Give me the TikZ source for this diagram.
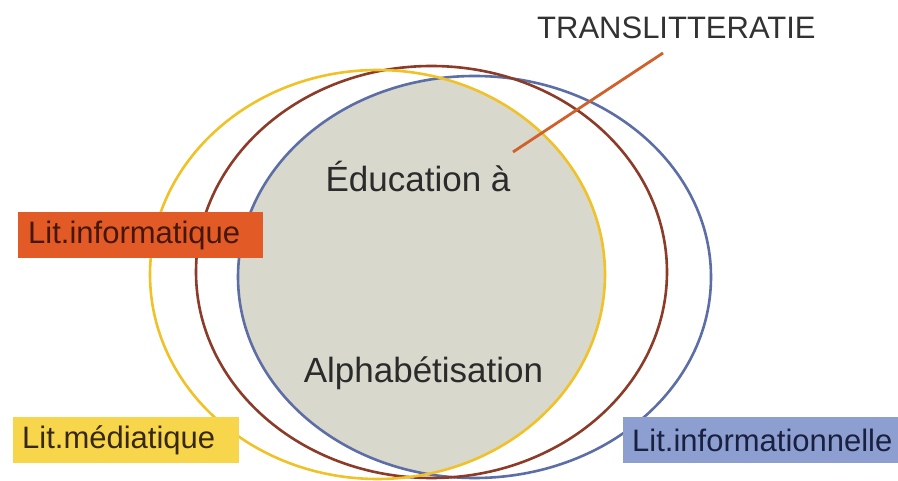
\documentclass[tikz,border=0pt]{standalone}
\usepackage{fontspec}
\setmainfont{Liberation Sans}
\definecolor{cyel}{RGB}{240,194,40}
\definecolor{cbrn}{RGB}{140,59,40}
\definecolor{cblu}{RGB}{93,110,166}
\definecolor{cgray}{RGB}{217,216,204}
\definecolor{corg}{RGB}{226,91,38}
\definecolor{cyelbox}{RGB}{247,214,76}
\definecolor{cblubox}{RGB}{141,159,208}
\definecolor{cline}{RGB}{208,96,44}
\definecolor{ctext}{RGB}{43,43,43}
\tikzset{
  ring/.style={line width=2.6pt},
  labelbox/.style={rectangle, inner ysep=0pt, minimum height=46pt, align=left,
    font=\fontsize{31}{36}\selectfont},
  bigtext/.style={anchor=base, text=ctext, inner sep=0pt, font=\fontsize{35}{40}\selectfont},
}
\begin{document}
\begin{tikzpicture}[x=1pt,y=-1pt]
\useasboundingbox (0,0) rectangle (898,481);
\clip (0,0) rectangle (898,481);
\fill[white] (0,0) rectangle (898,481);
% gray fill: intersection of yellow and blue ellipses
\begin{scope}
  \clip (377.5,274.5) ellipse [x radius=227.5pt, y radius=204.5pt];
  \fill[cgray] (474.5,277) ellipse [x radius=236.5pt, y radius=201pt];
\end{scope}
% ellipses
\draw[ring, cblu] (474.5,277) ellipse [x radius=236.5pt, y radius=201pt];
\draw[ring, cbrn] (431.5,272) ellipse [x radius=235.5pt, y radius=206pt];
\draw[ring, cyel] (377.5,274.5) ellipse [x radius=227.5pt, y radius=204.5pt];
% texts
\node[bigtext] (edu) at (418,192) {Éducation à};
\node[bigtext] (alpha) at (423.5,382) {Alphabétisation};
\node[anchor=base west, inner sep=0pt, text={rgb,255:red,50;green,50;blue,50},
  font=\fontsize{31}{36}\selectfont] (trans) at (537,39) {TRANSLITTERATIE};
\coordinate (lineA) at (513,152);
\coordinate (lineB) at (663,53);
\draw[cline, line width=2.8pt] (lineA) -- (lineB);
% label boxes
\node[labelbox, fill=corg, text={rgb,255:red,70;green,22;blue,8}, inner xsep=10pt,
  text width=225pt, anchor=north west] (linf) at (18,212) {Lit.informatique};
\node[labelbox, fill=cyelbox, text={rgb,255:red,55;green,40;blue,10}, inner xsep=9pt,
  text width=208pt, anchor=north west] (lmed) at (13,417) {Lit.médiatique};
\node[labelbox, fill=cblubox, text={rgb,255:red,25;green,32;blue,64}, inner xsep=9pt,
  text width=280pt, anchor=north west] (linfo) at (623,417) {Lit.informationnelle};
\end{tikzpicture}
\end{document}
